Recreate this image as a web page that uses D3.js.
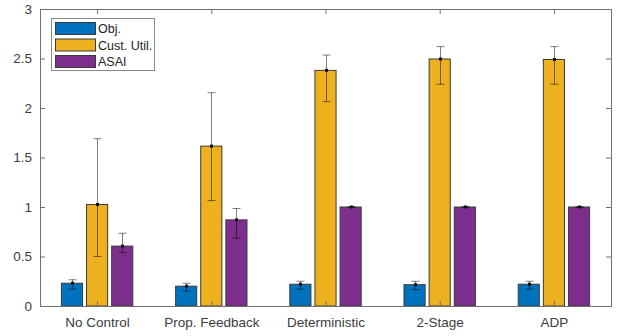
<!DOCTYPE html>
<html>
<head>
<meta charset="utf-8">
<script src="https://cdn.jsdelivr.net/npm/d3@7"></script>
<style>
  body { margin: 0; background: #fff; }
  svg text { font-family: "Liberation Sans", Arial, sans-serif; }
</style>
</head>
<body>
<div id="chart"></div>
<script>
const categories = ["No Control", "Prop. Feedback", "Deterministic", "2-Stage", "ADP"];
const seriesNames = ["Obj.", "Cust. Util.", "ASAI"];
const colors = ["#0072BD", "#EDB120", "#7E2F8E"];

const objVals  = [0.23, 0.20, 0.22, 0.215, 0.22];
const objLo    = [0.17, 0.15, 0.17, 0.165, 0.17];
const objHi    = [0.265, 0.23, 0.25, 0.25, 0.25];

const utilVals = [1.025, 1.615, 2.38, 2.495, 2.49];
const utilLo   = [0.50, 1.065, 2.065, 2.24, 2.24];
const utilHi   = [1.69, 2.155, 2.535, 2.62, 2.62];

const asaiVals = [0.605, 0.87, 1.0, 1.0, 1.0];
const asaiLo   = [0.54, 0.685, 0.995, 0.995, 0.995];
const asaiHi   = [0.735, 0.985, 1.005, 1.005, 1.005];

const yTicks = [0, 0.5, 1, 1.5, 2, 2.5, 3];

const W = 625, H = 336;
const plotLeft = 40, plotRight = 611, plotTop = 9, plotBottom = 306;

// build rows from the arrays
const series = [
  { vals: objVals, lo: objLo, hi: objHi },
  { vals: utilVals, lo: utilLo, hi: utilHi },
  { vals: asaiVals, lo: asaiLo, hi: asaiHi }
];
const bars = [];
series.forEach((s, si) => {
  categories.forEach((c, ci) => {
    bars.push({ si: si, ci: ci, v: s.vals[ci], lo: s.lo[ci], hi: s.hi[ci] });
  });
});

const svg = d3.select("#chart").append("svg")
  .attr("width", W)
  .attr("height", H);

const x = d3.scaleLinear().domain([0.5, categories.length + 0.5]).range([plotLeft, plotRight]);
const y = d3.scaleLinear().domain([0, 3]).range([plotBottom, plotTop]);
const offset = d3.scaleLinear().domain([0, 2]).range([-0.22, 0.22]);
const barW = x(0.185) - x(0);

// bars
svg.append("g")
  .selectAll("rect")
  .data(bars)
  .join("rect")
  .attr("x", d => x(d.ci + 1 + offset(d.si)) - barW / 2)
  .attr("y", d => y(d.v))
  .attr("width", barW)
  .attr("height", d => y(0) - y(d.v))
  .attr("fill", d => colors[d.si])
  .attr("stroke", "#3a3a3a")
  .attr("stroke-width", 1);

// axes (box with mirrored ticks)
const axisColor = "#707070";
const tickLen = 5;

const yAxis = d3.axisLeft(y).tickValues(yTicks).tickSize(-tickLen).tickPadding(8).tickFormat(d3.format("~g"));
const gy = svg.append("g").attr("transform", `translate(${plotLeft},0)`).call(yAxis);
const yAxisR = d3.axisRight(y).tickValues(yTicks).tickSize(-tickLen).tickFormat("");
const gyr = svg.append("g").attr("transform", `translate(${plotRight},0)`).call(yAxisR);

const xAxis = d3.axisBottom(x).tickValues(d3.range(1, categories.length + 1))
  .tickSize(-tickLen).tickPadding(10).tickFormat(d => categories[d - 1]);
const gx = svg.append("g").attr("transform", `translate(0,${plotBottom})`).call(xAxis);
const xAxisT = d3.axisTop(x).tickValues(d3.range(1, categories.length + 1)).tickSize(-tickLen).tickFormat("");
const gxt = svg.append("g").attr("transform", `translate(0,${plotTop})`).call(xAxisT);

[gy, gyr, gx, gxt].forEach(g => {
  g.selectAll(".tick line").attr("stroke", axisColor);
  g.selectAll("text").attr("fill", "#3c3c3c").attr("font-size", 13.5);
});
gx.selectAll(".tick text").attr("dy", "0.85em");
svg.selectAll(".domain").remove();

// box outline
svg.append("rect")
  .attr("x", plotLeft + 0.5).attr("y", plotTop + 0.5)
  .attr("width", plotRight - plotLeft).attr("height", plotBottom - plotTop)
  .attr("fill", "none").attr("stroke", axisColor).attr("stroke-width", 1);

// error bars
const eb = svg.append("g").attr("stroke", "#000").attr("stroke-opacity", 0.5).attr("stroke-width", 1);
bars.forEach(d => {
  const cx = Math.round(x(d.ci + 1 + offset(d.si))) + 0.5;
  eb.append("line").attr("x1", cx).attr("x2", cx).attr("y1", y(d.lo)).attr("y2", y(d.hi));
  eb.append("line").attr("x1", cx - 4).attr("x2", cx + 4).attr("y1", y(d.lo)).attr("y2", y(d.lo));
  eb.append("line").attr("x1", cx - 4).attr("x2", cx + 4).attr("y1", y(d.hi)).attr("y2", y(d.hi));
  svg.append("rect").attr("x", cx - 1.5).attr("y", y(d.v) - 1.5).attr("width", 3).attr("height", 3).attr("fill", "#111");
});

// legend
const lg = svg.append("g").attr("transform", "translate(51,18)");
lg.append("rect").attr("x", 0.5).attr("y", 0.5).attr("width", 103).attr("height", 52)
  .attr("fill", "#fff").attr("stroke", "#8a8a8a");
seriesNames.forEach((name, i) => {
  const row = lg.append("g").attr("transform", `translate(4,${4 + i * 16.5})`);
  row.append("rect").attr("x", 0.5).attr("y", 0.5).attr("width", 40).attr("height", 12)
    .attr("fill", colors[i]).attr("stroke", "#3a3a3a");
  row.append("text").attr("x", 43).attr("y", 11).attr("font-size", 12.5).attr("fill", "#222").text(name);
});
</script>
</body>
</html>
